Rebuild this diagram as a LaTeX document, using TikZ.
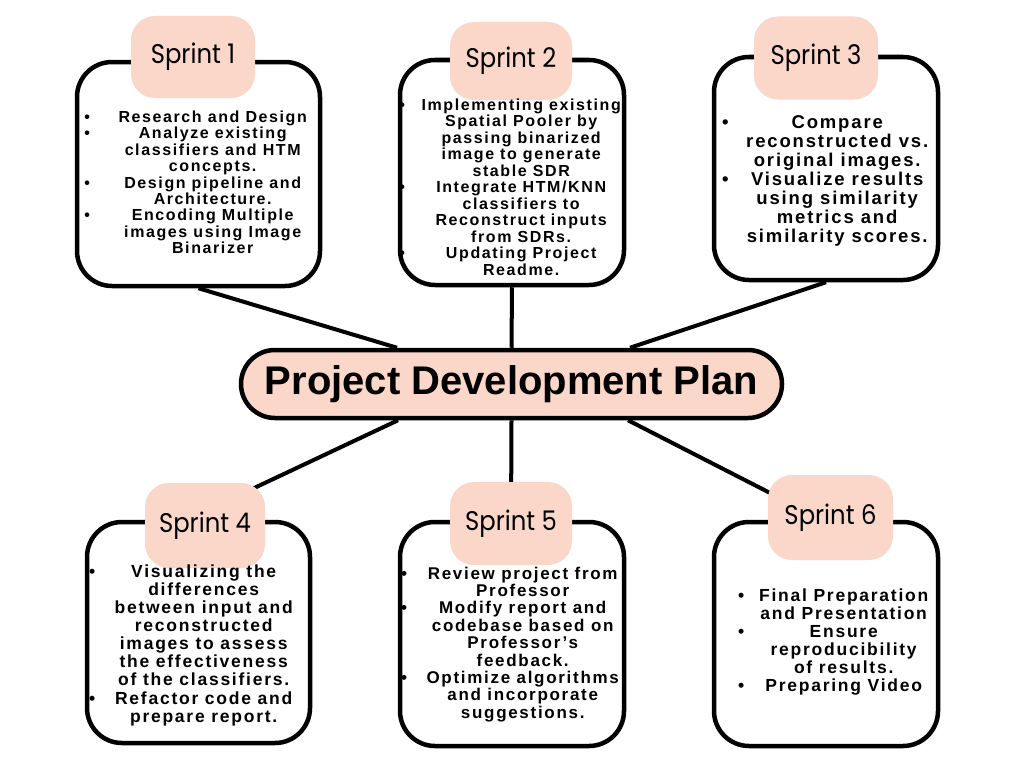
\documentclass[tikz,border=0pt]{standalone}
\usepackage{fontspec}
\usepackage{array}
\setmainfont{Liberation Sans}
\newfontfamily\itemfont[LetterSpace=10]{Liberation Sans}
\newfontfamily\tagfont[FakeStretch=0.9]{Poppins}
\usetikzlibrary{calc,positioning}
\definecolor{peach}{HTML}{FAD7C9}
\pgfdeclarelayer{bg}
\pgfsetlayers{bg,main}
\tikzset{sprintbox/.style = {draw, line width=4.5pt, rounded corners=35pt, fill=white}}
\tikzset{tag/.style = {fill=peach, rounded corners=24pt, font=\tagfont\fontsize{27}{27}\selectfont}}
\tikzset{plan/.style = {draw, line width=4.5pt, fill=peach, rounded corners=34pt, minimum width=541pt, minimum height=68pt, font=\bfseries\fontsize{40}{40}\selectfont}}
\tikzset{items/.style 2 args = {anchor=base west, inner sep=0pt, font=\itemfont\bfseries\fontsize{#1}{#2}\selectfont}}
\tikzset{edge/.style = {line width=4pt}}
\newcommand{\itm}[1]{\textbullet & \begin{tabular}[t]{@{}c@{}}#1\end{tabular}\\}
\newenvironment{itemlist}[1]{\begin{tabular}[t]{@{}p{10pt}@{}>{\centering\arraybackslash}p{#1}@{}}}{\end{tabular}}

\begin{document}
\begin{tikzpicture}[x=1pt, y=-1pt]
    \useasboundingbox (0,0) rectangle (1024,768);

    % sprint boxes
    \node[sprintbox, minimum width=243pt, minimum height=224pt] (box1) at (198.5,174) {};
    \node[sprintbox, minimum width=224pt, minimum height=225pt] (box2) at (512,172.5) {};
    \node[sprintbox, minimum width=224pt, minimum height=223pt] (box3) at (826,168.5) {};
    \node[sprintbox, minimum width=223pt, minimum height=221pt] (box4) at (198.5,632.5) {};
    \node[sprintbox, minimum width=224pt, minimum height=224pt] (box5) at (512,634) {};
    \node[sprintbox, minimum width=224pt, minimum height=224pt] (box6) at (826,634) {};

    % tags
    \node[tag, minimum width=124pt, minimum height=82pt] (tag1) at (193,57) {Sprint 1};
    \node[tag, minimum width=122pt, minimum height=78pt] (tag2) at (511,61) {Sprint 2};
    \node[tag, minimum width=124pt, minimum height=83pt] (tag3) at (816,58) {Sprint 3};
    \node[tag, minimum width=120pt, minimum height=85pt] (tag4) at (205,525.5) {Sprint 4};
    \node[tag, minimum width=122pt, minimum height=83pt] (tag5) at (511,523.5) {Sprint 5};
    \node[tag, minimum width=125pt, minimum height=85pt] (tag6) at (830.5,517.5) {Sprint 6};

    % sprint contents
    \node[items={16}{16.2}] (txt1) at (84.2,122.5) {\begin{itemlist}{236.6pt}
        \itm{Research and Design}
        \itm{Analyze existing\\classifiers and HTM\\concepts.}
        \itm{Design pipeline and\\Architecture.}
        \itm{Encoding Multiple\\images using Image\\Binarizer}
    \end{itemlist}};
    \node[items={16}{16.2}] (txt2) at (399.2,110.5) {\begin{itemlist}{223.6pt}
        \itm{Implementing existing\\Spatial Pooler by\\passing binarized\\image to generate\\stable SDR}
        \itm{Integrate HTM/KNN\\classifiers to\\Reconstruct inputs\\from SDRs.}
        \itm{Updating Project\\Readme.}
    \end{itemlist}};
    \node[items={18.5}{19}] (txt3) at (721.8,128) {\begin{itemlist}{210.4pt}
        \itm{Compare\\reconstructed vs.\\original images.}
        \itm{Visualize results\\using similarity\\metrics and\\similarity scores.}
    \end{itemlist}};
    \node[items={17.5}{18}] (txt4) at (88.9,577.5) {\begin{itemlist}{209.2pt}
        \itm{Visualizing the\\differences\\between input and\\reconstructed\\images to assess\\the effectiveness\\of the classifiers.}
        \itm{Refactor code and\\prepare  report.}
    \end{itemlist}};
    \node[items={17}{17}] (txt5) at (401,579) {\begin{itemlist}{223pt}
        \itm{Review project from\\Professor}
        \itm{Modify report and\\codebase based on\\Professor’s\\feedback.}
        \itm{Optimize algorithms\\and incorporate\\suggestions.}
    \end{itemlist}};
    \node[items={17.5}{18}] (txt6) at (737.9,601.5) {\begin{itemlist}{191.2pt}
        \itm{Final Preparation\\and Presentation}
        \itm{Ensure\\reproducibility\\of results.}
        \itm{Preparing Video}
    \end{itemlist}};

    % centre
    \node[plan] (plan) at (511.5,384) {Project Development Plan};

    \begin{pgfonlayer}{bg}
        \fill[white] (0,0) rectangle (1024,768);
        \draw[edge] (box1.south) -- ($(plan.north)+(-114.5,0)$);
        \draw[edge] (box2.south) -- (plan.north);
        \draw[edge] (box3.south) -- ($(plan.north)+(118.5,0)$);
        \draw[edge] ($(plan.south)+(-113.5,0)$) -- ($($(plan.south)+(-113.5,0)$)!1.15!(tag4.north east)$);
        \draw[edge] (plan.south) -- (tag5.center);
        \draw[edge] ($(plan.south)+(116.5,0)$) -- ($($(plan.south)+(116.5,0)$)!1.1!($(tag6.north west)+(0,17)$)$);
    \end{pgfonlayer}
\end{tikzpicture}
\end{document}
